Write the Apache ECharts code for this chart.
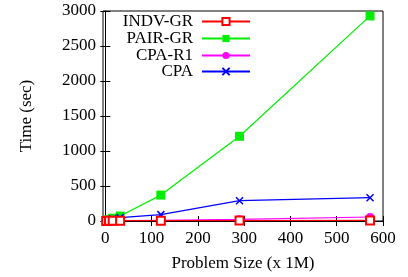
<!DOCTYPE html>
<html>
<head>
<meta charset="utf-8">
<script src="https://cdn.jsdelivr.net/npm/echarts@6/dist/echarts.min.js"></script>
<style>
html, body { margin: 0; padding: 0; background: #fff; }
#main { width: 408px; height: 277px; }
</style>
</head>
<body>
<div id="main"></div>
<script>
// problem sizes (x 1M)
var sizes = [2, 8, 16, 32, 120, 290, 572];
var indvGr = [1, 2, 3, 4, 5, 6, 8];
var pairGr = [5, 20, 40, 71, 370, 1210, 2930];
var cpaR1 = [1, 2, 3, 4, 10, 24, 57];
var cpa = [5, 15, 30, 48, 91, 290, 333];
var xTicks = [0, 100, 200, 300, 400, 500, 600];

var myChart = echarts.init(document.getElementById('main'));
var font = 'Liberation Serif';
var fs = 17;
var cross = 'path://M0,0L10,10M10,0L0,10';

function pairs(ys) {
    var out = [];
    for (var i = 0; i < sizes.length; i++) out.push([sizes[i], ys[i]]);
    return out;
}

function mkSeries(name, ys, color, symbol, size, z, itemStyle) {
    return {
        name: name,
        type: 'line',
        data: pairs(ys),
        symbol: symbol,
        symbolSize: size,
        showAllSymbol: true,
        z: z,
        lineStyle: {color: color, width: 1.2},
        itemStyle: itemStyle,
        emphasis: {disabled: true}
    };
}

function mkLegend(name, top) {
    return {
        data: [name],
        right: 157,
        top: top,
        align: 'right',
        itemWidth: 48,
        itemHeight: 9,
        itemGap: 0,
        padding: 0,
        textStyle: {fontFamily: font, fontSize: fs, color: '#000', padding: [0, 4, 0, 0]}
    };
}

var tickStyle = {show: true, inside: true, length: 5, lineStyle: {color: '#000'}};

option = {
    animation: false,
    textStyle: {fontFamily: font},
    legend: [
        mkLegend('INDV-GR', 13),
        mkLegend('PAIR-GR', 30),
        mkLegend('CPA-R1', 47),
        mkLegend('CPA', 63)
    ],
    grid: {left: 103, right: 25, top: 11, bottom: 55, show: true, borderColor: '#000', borderWidth: 1},
    xAxis: [{
        type: 'value',
        min: -5,
        max: 600,
        name: 'Problem Size (x 1M)',
        nameLocation: 'middle',
        nameGap: 34,
        nameTextStyle: {fontFamily: font, fontSize: fs, color: '#000'},
        axisLine: {show: true, onZero: false, lineStyle: {color: '#000'}},
        axisTick: Object.assign({customValues: xTicks}, tickStyle),
        axisLabel: {customValues: xTicks, fontFamily: font, fontSize: fs, color: '#000', margin: 9},
        splitLine: {show: false}
    }, {
        type: 'value',
        position: 'top',
        min: -5,
        max: 600,
        axisLine: {show: false},
        axisTick: Object.assign({customValues: xTicks}, tickStyle),
        axisLabel: {show: false},
        splitLine: {show: false}
    }],
    yAxis: [{
        type: 'value',
        min: 0,
        max: 3000,
        interval: 500,
        name: 'Time (sec)',
        nameLocation: 'middle',
        nameGap: 68,
        nameTextStyle: {fontFamily: font, fontSize: fs, color: '#000'},
        axisLine: {show: true, lineStyle: {color: '#000'}},
        axisTick: tickStyle,
        axisLabel: {fontFamily: font, fontSize: fs, color: '#000', margin: 7,
            formatter: function (v) { return String(v); }},
        splitLine: {show: false}
    }, {
        type: 'value',
        position: 'right',
        min: 0,
        max: 3000,
        interval: 500,
        axisLine: {show: false},
        axisTick: tickStyle,
        axisLabel: {show: false},
        splitLine: {show: false}
    }],
    series: [
        mkSeries('INDV-GR', indvGr, '#ff0000', 'emptyRect', 8, 5,
            {color: '#ff0000', borderColor: '#ff0000', borderWidth: 1.2}),
        mkSeries('PAIR-GR', pairGr, '#00ee00', 'rect', 9, 2,
            {color: '#00ee00'}),
        mkSeries('CPA-R1', cpaR1, '#ff00ff', 'circle', 8, 3,
            {color: '#ff00ff'}),
        mkSeries('CPA', cpa, '#0000ff', cross, 7, 4,
            {color: '#0000ff', borderColor: '#0000ff', borderWidth: 1.5})
    ]
};
myChart.setOption(option);
</script>
</body>
</html>
